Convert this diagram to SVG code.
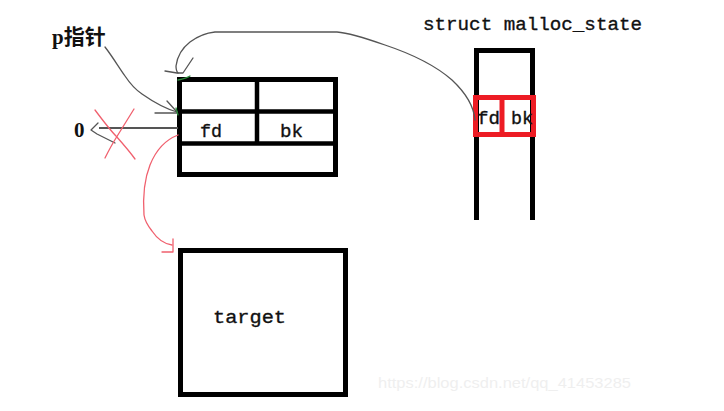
<svg xmlns="http://www.w3.org/2000/svg" width="724" height="411" viewBox="0 0 724 411">
  <style>
    .box { fill: none; stroke: #000; stroke-width: 5; }
    .div { fill: none; stroke: #000; stroke-width: 4.5; }
    .red { fill: none; stroke: #ed1c24; stroke-width: 5; }
    .lbl { font-family: "Liberation Mono", "Noto Sans CJK SC", monospace; font-size: 19px; fill: #111; stroke: #111; stroke-width: 0.35; }
    .pen { fill: none; stroke: #555; stroke-width: 1.3; stroke-linecap: round; stroke-linejoin: round; }
    .redpen { fill: none; stroke: #f0606e; stroke-width: 1.3; stroke-linecap: round; stroke-linejoin: round; }
    .green { fill: none; stroke: #2a8a3a; stroke-width: 1.3; stroke-linecap: round; }
  </style>
  <rect width="724" height="411" fill="#fff"/>

  <g id="watermark">
    <text x="378" y="388" font-family="Liberation Sans, Arial, sans-serif" font-size="15" fill="#efefef" textLength="253" lengthAdjust="spacingAndGlyphs">https://blog.csdn.net/qq_41453285</text>
  </g>

  <g id="p-label">
    <text x="52" y="44" font-family="Liberation Serif, 'Noto Sans CJK SC', serif" font-size="21" font-weight="bold" fill="#111">p指针</text>
  </g>

  <g id="zero-label">
    <text x="74" y="137" font-family="Liberation Serif, serif" font-size="21" font-weight="bold" fill="#111">0</text>
  </g>

  <g id="chunk">
    <rect class="box" x="179.5" y="79.5" width="156" height="95"/>
    <line class="div" x1="179" y1="111.5" x2="336" y2="111.5"/>
    <line class="div" x1="179" y1="143.5" x2="336" y2="143.5"/>
    <line class="div" x1="257" y1="79" x2="257" y2="143"/>
    <text class="lbl" x="200" y="137" textLength="22" lengthAdjust="spacingAndGlyphs">fd</text>
    <text class="lbl" x="280" y="137" textLength="23" lengthAdjust="spacingAndGlyphs">bk</text>
  </g>

  <g id="target">
    <rect class="box" x="180.5" y="250.5" width="165" height="144"/>
    <text class="lbl" x="213" y="323" textLength="73" lengthAdjust="spacingAndGlyphs">target</text>
  </g>

  <g id="malloc_state">
    <text class="lbl" x="423" y="30" textLength="219" lengthAdjust="spacingAndGlyphs">struct malloc_state</text>
    <path class="box" d="M476.5,220 V50.5 H532.5 V220"/>
    <rect class="red" x="475.5" y="97.5" width="58" height="37"/>
    <line class="red" x1="502" y1="97" x2="502" y2="135" stroke-width="4.5"/>
    <text class="lbl" x="477" y="124" textLength="23" lengthAdjust="spacingAndGlyphs">fd</text>
    <text class="lbl" x="511" y="124" textLength="22" lengthAdjust="spacingAndGlyphs">bk</text>
  </g>

  <g id="connectors">
    <!-- p pointer arrow -->
    <path class="pen" d="M105,47 C112,56 118,66 125,76 C131,85 136,90 142,94 C152,101 163,108 177,112"/>
    <path class="pen" d="M155,113 H177 M167,101 L177,112"/>
    <path class="green" d="M176,108 L178,115"/>
    <!-- 0 line (crossed out) -->
    <line x1="99" y1="128" x2="178" y2="128" stroke="#555" stroke-width="2"/>
    <path class="pen" d="M98,123 L91,130 L97,134 L115,143"/>
    <path class="redpen" d="M95,110 C104,122 110,130 116,136 C124,145 130,152 135,159"/>
    <path class="redpen" d="M134,109 C126,122 121,130 116,138 C111,146 108,152 105,158"/>
    <!-- fd -> target (red) -->
    <path class="redpen" d="M178,135 C165,140 156,150 150,165 C144,180 143,200 144,215 C145,222 148,226 152,231 C158,240 165,244 172,245"/>
    <path class="redpen" d="M173,239 V252 H162"/>
    <!-- malloc_state fd -> chunk (gray) -->
    <path class="pen" d="M475,120 C474,108 468,95 452,80 C436,66 412,54 385,45 C365,38 350,33 337,32 L215,32 C205,33 198,36 190,42 C181,49 177,58 176,66 C176,70 177,72 178,73"/>
    <path class="pen" d="M165,71 L177,73 L183,73 L193,58"/>
    <path class="green" d="M178,80 C183,79 187,78 190,76"/>
  </g>
</svg>
